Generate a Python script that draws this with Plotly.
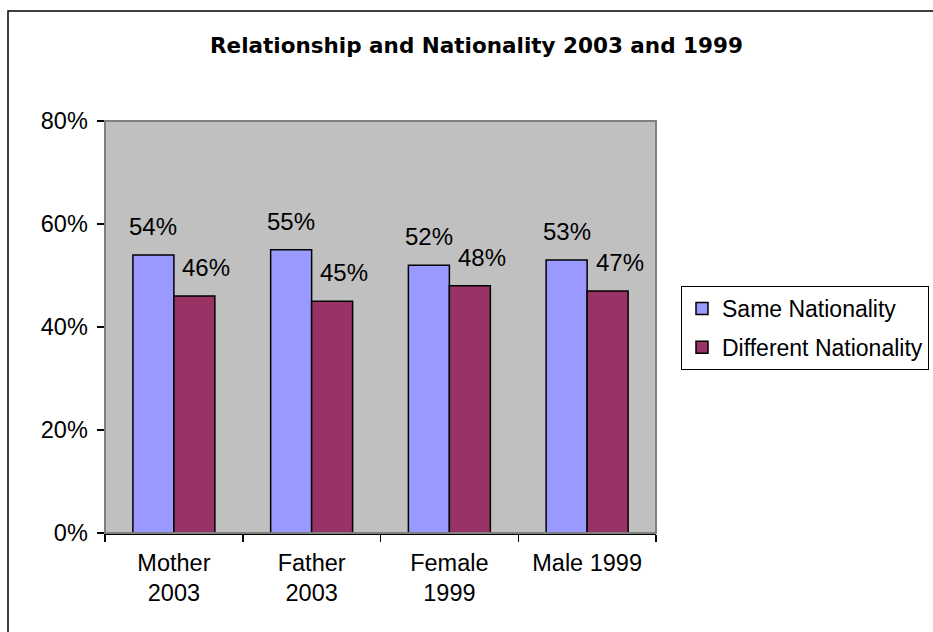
import plotly.graph_objects as go

categories = ["Mother<br>2003", "Father<br>2003", "Female<br>1999", "Male 1999"]
same_nationality = [0.54, 0.55, 0.52, 0.53]
different_nationality = [0.46, 0.45, 0.48, 0.47]
series_names = ["Same Nationality", "Different Nationality"]
colors = ["#9999FF", "#993366"]
title_text = "Relationship and Nationality 2003 and 1999"

W, H = 933, 632
L, R, T, B = 105, 656, 121, 533
bargap = 0.405
FONT = "Liberation Sans, Arial, sans-serif"

fig = go.Figure()
for k, (name, vals, col) in enumerate(zip(series_names, [same_nationality, different_nationality], colors)):
    fig.add_trace(go.Bar(
        x=list(range(len(categories))), y=vals, name=name, legendgroup=f"g{k}",
        marker=dict(color=col, line=dict(color="black", width=1.5)),
        hoverinfo="skip",
    ))

bw = (1 - bargap) / 2
annotations = []
for i in range(len(categories)):
    annotations.append(dict(x=i - bw / 2, y=same_nationality[i], xref="x", yref="y",
                            text=f"{same_nationality[i]*100:.0f}%", showarrow=False,
                            yanchor="bottom", yshift=13, xshift=0,
                            font=dict(size=24, color="black", family=FONT)))
    annotations.append(dict(x=i + bw / 2, y=different_nationality[i], xref="x", yref="y",
                            text=f"{different_nationality[i]*100:.0f}%", showarrow=False,
                            yanchor="bottom", yshift=13, xshift=12,
                            font=dict(size=24, color="black", family=FONT)))

pw = R - L
ph = B - T
def px(xp):
    return (xp - L) / pw
def py(yp):
    return (B - yp) / ph

annotations.append(dict(text="<b>" + title_text + "</b>",
                        xref="paper", yref="paper", x=px(476), y=py(45),
                        xanchor="center", yanchor="middle", showarrow=False,
                        font=dict(size=21.5, family="DejaVu Sans, sans-serif", color="black")))

shapes = [
    dict(type="rect", xref="paper", yref="paper", x0=0, x1=1, y0=0, y1=1,
         line=dict(color="#808080", width=2), layer="above"),
    dict(type="rect", xref="paper", yref="paper", x0=px(8), x1=px(W + 20),
         y0=py(H + 20), y1=py(11), line=dict(color="black", width=1.5)),
]

fig.update_layout(
    width=W, height=H,
    margin=dict(l=L, r=W - R, t=T, b=H - B, autoexpand=False),
    paper_bgcolor="white", plot_bgcolor="#C0C0C0",
    barmode="group", bargap=bargap, bargroupgap=0,
    font=dict(family=FONT, size=23, color="black"),
    showlegend=True,
    legend=dict(x=px(681), y=py(286), xanchor="left", yanchor="top",
                bordercolor="black", borderwidth=1, bgcolor="white",
                font=dict(size=23, family=FONT, color="black"),
                itemwidth=30, tracegroupgap=6),
    annotations=annotations,
    shapes=shapes,
    hovermode=False,
)

fig.update_xaxes(
    tickmode="array", tickvals=list(range(len(categories))), ticktext=categories,
    range=[-0.5, len(categories) - 0.5],
    showline=True, linecolor="black", linewidth=1.5,
    showgrid=False, zeroline=False,
    ticks="", ticklabelstandoff=8,
    tickfont=dict(size=23.5, family=FONT, color="black"),
    minor=dict(tickmode="array", tickvals=[i - 0.5 for i in range(len(categories) + 1)],
               ticks="outside", ticklen=7, tickcolor="black", tickwidth=1.5, showgrid=False),
)
fig.update_yaxes(
    range=[0, 0.8], tickmode="array", tickvals=[0, 0.2, 0.4, 0.6, 0.8],
    tickformat=".0%", showline=True, linecolor="black", linewidth=1.5,
    showgrid=False, zeroline=False,
    ticks="outside", ticklen=7, tickcolor="black", tickwidth=1.5, ticklabelstandoff=4,
    tickfont=dict(size=23.5, family=FONT, color="black"),
)

fig.write_html("out.html", config={"displayModeBar": False, "staticPlot": True},
               post_script="document.body.style.margin='0';document.body.style.overflow='hidden';")
